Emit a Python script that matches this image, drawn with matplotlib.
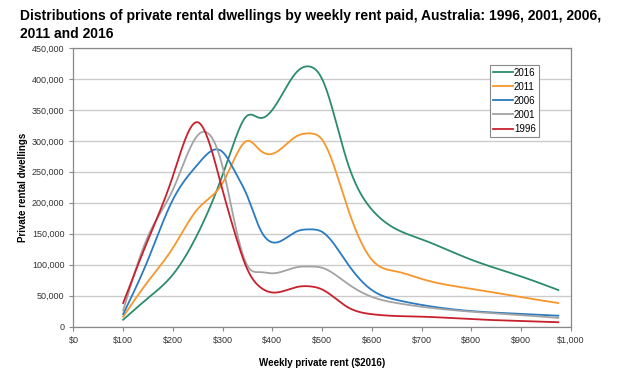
import numpy as np
import matplotlib.pyplot as plt
from matplotlib.ticker import FuncFormatter

plt.rcParams['font.family'] = ['Liberation Sans', 'DejaVu Sans']

# weekly rent ($2016) at which each series is read
rent = [100, 150, 200, 250, 300, 325, 350, 375, 400, 450, 475, 500,
        550, 600, 650, 700, 800, 900, 975]

d2016 = [11000, 46000, 84000, 150000, 245000, 302000, 341000, 337000, 350000, 412000, 420000, 400000,
         268000, 189000, 157000, 141000, 108000, 81000, 59000]
d2011 = [16000, 73000, 127000, 190000, 232000, 273000, 300000, 285000, 279000, 308000, 312000, 302000,
         195000, 108000, 89000, 77000, 61000, 47500, 38000]
d2006 = [20000, 108000, 205000, 262000, 282000, 250000, 210000, 158000, 136000, 154000, 157000, 153000,
         103000, 59000, 43000, 35000, 25000, 20500, 17500]
d2001 = [26000, 146000, 221000, 309000, 258000, 165000, 98000, 88000, 86000, 96000, 97000, 95000,
         70000, 48000, 38000, 32000, 24000, 18500, 14000]
d1996 = [38000, 140000, 243000, 330000, 220000, 150000, 92000, 64000, 55000, 64000, 65000, 60000,
         32000, 20000, 17000, 16000, 12000, 9000, 7000]

series = [('2016', d2016, '#2b8c6c'),
          ('2011', d2011, '#f7962b'),
          ('2006', d2006, '#2a7bc2'),
          ('2001', d2001, '#a3a3a3'),
          ('1996', d1996, '#c8202c')]


def smooth(xs, ys, n=600):
    # natural cubic spline through the points
    x = np.asarray(xs, float)
    y = np.asarray(ys, float)
    k = len(x)
    h = np.diff(x)
    A = np.zeros((k, k))
    b = np.zeros(k)
    A[0, 0] = A[-1, -1] = 1
    for i in range(1, k - 1):
        A[i, i - 1] = h[i - 1]
        A[i, i] = 2 * (h[i - 1] + h[i])
        A[i, i + 1] = h[i]
        b[i] = 6 * ((y[i + 1] - y[i]) / h[i] - (y[i] - y[i - 1]) / h[i - 1])
    m = np.linalg.solve(A, b)
    xx = np.linspace(x[0], x[-1], n)
    j = np.clip(np.searchsorted(x, xx) - 1, 0, k - 2)
    t0 = x[j + 1] - xx
    t1 = xx - x[j]
    hj = h[j]
    yy = (m[j] * t0 ** 3 / (6 * hj) + m[j + 1] * t1 ** 3 / (6 * hj)
          + (y[j] / hj - m[j] * hj / 6) * t0 + (y[j + 1] / hj - m[j + 1] * hj / 6) * t1)
    return xx, yy


fig = plt.figure(figsize=(6.17, 3.69), dpi=100)
ax = fig.add_axes([0.119, 0.115, 0.806, 0.755])

for name, vals, col in series:
    sx, sy = smooth(rent, vals)
    ax.plot(sx, sy, color=col, lw=1.3, label=name)

ax.set_xlim(0, 1000)
ax.set_ylim(0, 450000)
ax.set_xticks(range(0, 1001, 100))
ax.set_yticks(range(0, 450001, 50000))
ax.xaxis.set_major_formatter(FuncFormatter(lambda v, p: '${:,.0f}'.format(v)))
ax.yaxis.set_major_formatter(FuncFormatter(lambda v, p: '{:,.0f}'.format(v)))
ax.tick_params(labelsize=6.5, colors='#333333', length=3, width=0.8)
ax.tick_params(color='#888888')
ax.grid(axis='y', color='#cccccc', lw=1)
ax.set_axisbelow(True)
for s in ax.spines.values():
    s.set_color('#888888')
    s.set_linewidth(0.9)

ax.set_xlabel('Weekly private rent ($2016)', fontsize=7, fontweight='bold', labelpad=10)
ax.set_ylabel('Private rental dwellings', fontsize=7, fontweight='bold', labelpad=3)

fig.text(0.032, 0.975, 'Distributions of private rental dwellings by weekly rent paid, Australia: 1996, 2001, 2006,\n2011 and 2016',
         fontsize=10, fontweight='bold', va='top', ha='left', linespacing=1.35)

leg = ax.legend(loc='upper left', bbox_to_anchor=(0.838, 0.94), fontsize=7, handlelength=2.0,
                handletextpad=0.15, labelspacing=0.42, borderpad=0.3, borderaxespad=0,
                fancybox=False, framealpha=1, edgecolor='#888888')
leg.get_frame().set_linewidth(0.8)

fig.savefig('out.png', dpi=100)
